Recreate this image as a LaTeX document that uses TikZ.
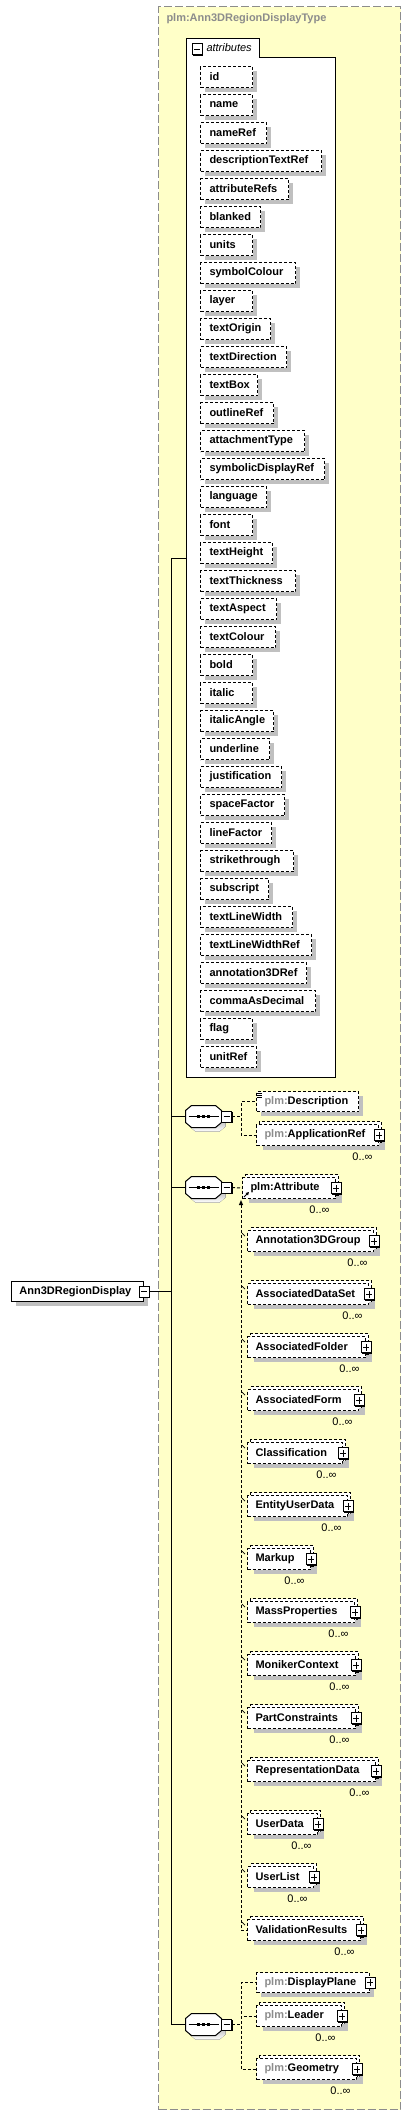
\documentclass[tikz,border=0pt]{standalone}
\usepackage{fontspec}
\setmainfont{Liberation Sans}
\usetikzlibrary{shadows,arrows.meta}

\definecolor{typefill}{HTML}{FFFFC8}
\definecolor{typeline}{HTML}{8C8C8C}
\definecolor{shade}{HTML}{C0C0C0}
\definecolor{nsgray}{HTML}{8C8C8C}

\newcommand{\ns}{{\color{nsgray}plm:}}
% outline of a compositor octagon round node #1
\newcommand{\octpath}[1]{([xshift=6pt]#1.north west) -- ([xshift=-6pt]#1.north east)
  -- ([yshift=-5pt]#1.north east) -- ([yshift=5pt]#1.south east)
  -- ([xshift=-6pt]#1.south east) -- ([xshift=6pt]#1.south west)
  -- ([yshift=5pt]#1.south west) -- ([yshift=-5pt]#1.north west) -- cycle}
\newcommand{\compositor}[2]{%
  \node[minimum width=35pt, minimum height=21pt, inner sep=0pt] (#1) at #2 {};
  \fill[shade, transform canvas={shift={(4pt,-4pt)}}] \octpath{#1};
  \draw[fill=white] \octpath{#1};
  \draw ([xshift=3pt]#1.west) -- ([xshift=-3pt]#1.east);
  \foreach \d in {-5,0,5}
    \fill ([xshift=\d pt]#1.center) +(-1.5,-1.5) rectangle +(1.5,1.5);
  \node[minus] (#1-m) at ([xshift=5pt]#1.east) {};}

\tikzset{
  lbl/.style={font=\bfseries\fontsize{11}{13}\selectfont},
  flat/.style={general shadow={fill=shade, draw=none, shadow xshift=4pt, shadow yshift=-4pt}},
  stack/.style={general shadow={fill=shade, draw=none, shadow xshift=6pt, shadow yshift=-4pt},
                general shadow={fill=white, draw, dash pattern=on 3pt off 2pt, shadow xshift=3pt, shadow yshift=3pt}},
  box/.style={lbl, draw, fill=white, dash pattern=on 3pt off 2pt, anchor=north west, inner ysep=0pt, inner xsep=8pt},
  attbox/.style={box, flat, minimum height=21pt, inner xsep=9pt},
  onebox/.style={box, flat, minimum height=20pt},
  manybox/.style={box, stack, minimum height=21pt},
  toggle/.style={draw, fill=white, solid, minimum width=10pt, minimum height=11pt, inner sep=0pt,
     general shadow={fill=black, draw=none, shadow xshift=1pt, shadow yshift=-1pt}},
  minus/.style={toggle, path picture={
     \draw ([xshift=2pt]path picture bounding box.west) -- ([xshift=-2pt]path picture bounding box.east);}},
  plus/.style={toggle, path picture={
     \draw ([xshift=2pt]path picture bounding box.west) -- ([xshift=-2pt]path picture bounding box.east);
     \draw ([yshift=2pt]path picture bounding box.south) -- ([yshift=-2pt]path picture bounding box.north);}},
  card/.style={font=\fontsize{11}{13}\selectfont, anchor=east, inner sep=0pt},
  sub/.style={dash pattern=on 3pt off 2pt},
}

\begin{document}
\begin{tikzpicture}[x=1pt, y=-1pt, line width=1pt]
  \useasboundingbox (0,0) rectangle (411,2115);

  % complex type frame
  \node[draw=typeline, fill=typefill, dash pattern=on 8pt off 3pt, anchor=north west,
        minimum width=242pt, minimum height=2103pt] (type) at (158,6) {};
  \node[lbl, text=typeline, anchor=west, inner sep=0pt] (typename) at (166,19) {plm:Ann3DRegionDisplayType};

  % attribute group
  \draw[fill=white] (186,1077) |- (259,38) |- (335,57) |- cycle;
  \coordinate (attrs) at (186,558);
  \node[minus] (grp-m) at (197,49) {};
  \node[font=\itshape\fontsize{11}{13}\selectfont, anchor=west, inner sep=0pt] (grp) at (206,48) {attributes};

  \foreach \n/\w [count=\i from 0, evaluate=\i as \y using 66+28*\i, evaluate=\w as \tw using \w-18] in
    {id/52, name/52, nameRef/66, descriptionTextRef/121, attributeRefs/88, blanked/60, units/52,
     symbolColour/95, layer/52, textOrigin/70, textDirection/86, textBox/57, outlineRef/73,
     attachmentType/104, symbolicDisplayRef/124, language/66, font/52, textHeight/72,
     textThickness/95, textAspect/76, textColour/75, bold/52, italic/52, italicAngle/73,
     underline/69, justification/81, spaceFactor/84, lineFactor/71, strikethrough/93,
     subscript/68, textLineWidth/92, textLineWidthRef/111, annotation3DRef/106,
     commaAsDecimal/115, flag/52, unitRef/56}
    \node[attbox, text width=\tw pt] (att\i) at (200,\y) {\n};

  % root element
  \node[box, solid, flat, minimum height=20pt, text width=116pt] (root) at (11,1281) {Ann3DRegionDisplay};
  \node[minus] (root-m) at (root.east) {};

  % sequences
  \compositor{seq1}{(203.5,1116.5)}
  \compositor{seq2}{(203.5,1187.5)}
  \compositor{seq3}{(203.5,2024.5)}

  \coordinate (bus) at (171,558);
  \draw (attrs) -- (bus) |- (seq3.west);
  \draw (root-m.east) -- (root-m.east -| bus);
  \draw (seq1.west -| bus) -- (seq1.west);
  \draw (seq2.west -| bus) -- (seq2.west);

  % first sequence
  \node[onebox, text width=86pt] (desc) at (256,1091) {\ns Description};
  \foreach \k in {2,4,6}
    \draw[line width=0.7pt] ([xshift=1pt, yshift=-\k pt]desc.north west) -- ++(5,0);
  \node[manybox, text width=106pt] (app) at (256,1124) {\ns ApplicationRef};
  \node[plus] (app-p) at (app.east) {};
  \node[card] (app-c) at (373,1157) {0..∞};
  \draw[sub] (seq1-m.east) -- ++(9,0) |- (desc.west);
  \draw[sub] (seq1-m.east) -- ++(9,0) |- (app.west);

  % second sequence
  \node[manybox, text width=77pt] (attr) at (242,1177) {plm:Attribute};
  \node[plus] (attr-p) at (attr.east) {};
  \node[card] (attr-c) at (330,1210) {0..∞};
  \draw[-{Triangle[length=3pt,width=3pt]}] ([shift={(2pt,2pt)}]attr.south west) -- ++(5,-5);
  \draw[sub] (seq2-m.east) -- (attr.west);

  \foreach \n/\r [count=\i from 0, evaluate=\i as \t using 1229+53*\i, evaluate=\r as \tw using \r-268] in
    {Annotation3DGroup/378, AssociatedDataSet/373, AssociatedFolder/370, AssociatedForm/363,
     Classification/347, EntityUserData/352, Markup/315, MassProperties/359, MonikerContext/360,
     PartConstraints/360, RepresentationData/380, UserData/322, UserList/318, ValidationResults/365}
  {
    \node[manybox, text width=\tw pt] (sub\i) at (247,\t+1) {\n};
    \node[plus] (sub\i-p) at (sub\i.east) {};
    \node[card] (sub\i-c) at (\r-10,\t+34) {0..∞};
    \draw[line width=0.7pt] (242,\t+4) -- (245,\t+7);
  }
  \coordinate (subtop) at (241,1200);
  \draw[sub, {Triangle[length=5pt,width=4pt]}-] (subtop) |- (sub13.west);

  % third sequence
  \node[onebox, text width=97pt] (plane) at (256,1972) {\ns DisplayPlane};
  \node[plus] (plane-p) at (plane.east) {};
  \node[manybox, text width=69pt] (lead) at (256,2005) {\ns Leader};
  \node[plus] (lead-p) at (lead.east) {};
  \node[card] (lead-c) at (336,2038) {0..∞};
  \node[manybox, text width=84pt] (geom) at (256,2058) {\ns Geometry};
  \node[plus] (geom-p) at (geom.east) {};
  \node[card] (geom-c) at (351,2091) {0..∞};
  \draw[sub] (seq3-m.east) -- ++(9,0) |- (plane.west);
  \draw[sub] (seq3-m.east) -- ++(9,0) |- (lead.west);
  \draw[sub] (seq3-m.east) -- ++(9,0) |- (geom.west);
\end{tikzpicture}
\end{document}
